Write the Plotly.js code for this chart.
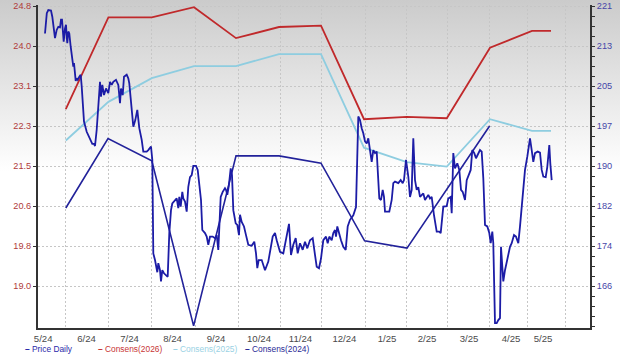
<!DOCTYPE html>
<html><head><meta charset="utf-8">
<script src="https://cdn.plot.ly/plotly-3.0.1.min.js"></script>
<style>
html,body{margin:0;padding:0;background:#fff;}
#chart{width:620px;height:354px;background:linear-gradient(to bottom,#cbcbcb 0px,#ffffff 172px);}
</style></head><body><div id="chart"></div>
<script>
// x unit: trading-day index from the first price point
const monthLabels = ['5/24','6/24','7/24','8/24','9/24','10/24','11/24','12/24','1/25','2/25','3/25','4/25','5/25'];
const monthLabelDays = [-0.9,20.75,42.25,63.75,85.5,107,127.75,149.7,171,191,212,233,249];
const gridDays = [10,31.5,53.35,75.35,96.5,117.5,138.35,160.35,180.85,201.35,222.15,241.15,260];

const leftTickLabels = ['19.0','19.8','20.6','21.5','22.3','23.1','24.0','24.8'];
const leftTickStart = 18.985, leftTickStep = 0.828571;
const rightTickLabels = ['166','174','182','190','197','205','213','221'];
const rightTickStart = 166, rightTickStep = 55 / 7;

const priceDays = [
0,0.9,1.65,3,3.65,4.5,5,5.85,6.65,7.5,
8,8.5,8.85,9.35,10,10.5,10.85,11.15,11.65,12.15,
12.85,13.65,14.15,14.5,14.85,15.35,15.85,16.35,17.15,17.85,
18.35,18.85,19.5,20.85,22.5,23.65,24.5,25,25.85,26.65,
27.5,28,28.65,29.5,30.5,31.65,32.5,33.35,34.15,35.5,
36.65,37.5,38,38.85,39.5,40.85,41.65,42.15,43.35,44.15,
45.15,46.15,47.15,48.35,49.15,50.85,51.65,53,53.65,54.15,
55,56.15,56.65,57.5,58,58.65,59.5,60.5,61.35,62.15,
63,63.65,65,65.85,66.65,67.15,67.85,68.65,69.15,70,
70.85,71.65,72.5,73.35,74.15,75.5,76.35,77.15,78,78.65,
80,80.85,81.65,82.5,83.85,85,85.85,86.65,87.15,87.85,
88.85,90,90.5,91.15,91.85,92.85,93.5,94.15,95.35,96.15,
97,97.5,98.35,99.5,100.5,101.65,103.35,104.65,105.5,106.15,
106.85,108.35,110,111.65,113.85,115,115.85,117.5,119.15,120.85,
122,123,124.15,125.35,126.35,127.5,128.85,130,131.15,132.5,
133.85,135,135.85,137,138,139.15,140.5,141.35,142.15,143.35,
144.15,145,145.5,146.15,147.15,148,149.15,150.35,151.35,152.5,
154.15,155,155.5,156.65,157.5,158.35,159.15,160,160.85,161.65,
162.5,163.35,164.15,165,165.85,166.35,167.15,168,168.85,169.5,
170,172.15,173.35,174.15,175,176.65,177.85,178.85,179.5,180.5,
181.65,182.5,183.35,184.15,185,185.85,186.65,187.5,189.15,190,
191.65,192.5,193.35,194.5,195.85,197.15,197.85,199.15,200.85,201.65,
202.85,203.35,204.15,205,206.15,207.15,208,208.85,210,210.85,
212,212.85,213.65,214.65,215.5,216.35,217.5,218.35,219.15,220,
221.15,222.15,222.85,223.65,224.15,225,225.85,226.65,227.5,228,
228.65,229.15,230,230.85,231.65,232.5,233.35,234.5,235.5,236.65,
237.5,238.35,239.15,240,241.15,242.5,243.35,244.15,245,246.35,
247.5,248.35,249.15,250.35,251.15,252.15,252.65,253.35];

const priceValues = [
215.6,219.6,220.2,220.1,218.9,215.6,214.7,216.3,216.9,216.8,
218.3,218.3,216.0,214.0,216.6,217.3,215.0,213.7,216.0,215.6,
213.0,210.1,209.1,209.8,208.1,206.3,206.8,206.5,207.1,207.5,
205.2,202.5,198.3,196.3,194.7,193.9,193.9,193.5,196.7,201.9,
206.1,203.2,205.5,203.5,204.8,203.9,206.1,205.5,206.1,206.5,
205.5,201.9,204.8,203.5,207.1,207.5,206.8,205.8,201.2,197.3,
198.6,200.6,197.0,194.7,192.4,192.4,192.7,193.4,190.8,172.4,
171.1,168.7,170.5,169.1,166.9,169.1,168.5,168.2,167.8,176.4,
180.9,182.2,182.9,183.2,181.3,183.5,181.6,184.5,183.2,182.6,
180.6,185.5,187.4,187.8,189.6,189.6,188.8,185.5,182.9,177.0,
176.4,175.7,174.1,175.7,175.7,175.4,176.0,173.1,178.3,183.5,
184.5,185.2,184.9,183.9,185.5,189.1,187.8,180.9,178.3,178.0,
176.0,180.0,178.6,177.7,176.0,174.1,173.9,174.7,172.4,169.5,
171.1,171.1,169.1,170.8,175.7,176.4,175.0,172.7,172.4,175.7,
178.2,172.1,174.1,175.4,172.4,174.4,173.1,174.7,173.4,175.0,
175.4,172.1,169.8,169.5,171.4,175.0,175.7,174.4,175.7,175.0,
176.4,177.0,175.7,177.7,176.0,175.0,173.7,173.1,177.7,179.0,
179.9,181.3,181.5,199.3,198.6,197.0,196.0,194.4,194.0,195.0,
193.1,190.4,192.7,192.1,192.4,187.5,183.2,182.9,184.9,183.5,
180.6,180.6,182.9,186.2,186.5,186.2,186.8,186.2,186.8,190.8,
187.5,183.5,184.9,195.0,186.8,184.9,185.4,183.5,184.2,182.9,
183.9,183.2,183.5,179.9,176.7,176.7,176.4,181.6,181.7,183.2,
183.5,180.3,192.1,189.1,190.1,188.8,184.9,184.5,182.9,186.8,
188.1,188.8,192.7,192.1,191.1,191.7,192.7,192.4,187.2,178.0,
177.7,176.4,174.4,176.7,174.4,158.7,158.7,159.3,159.7,173.7,
168.5,166.9,169.1,170.5,171.8,173.7,174.4,176.0,175.7,174.4,
177.7,181.6,186.2,188.8,191.4,195.0,192.7,190.4,192.1,192.4,
192.2,188.8,187.5,187.4,189.4,193.7,190.1,186.8];

const consensDays = [10.4,31.7,53.4,74.5,95.5,117,138,159.5,180.9,200.9,222.5,243.5,253];
const consens2026 = [22.65,24.55,24.55,24.76,24.12,24.35,24.38,22.44,22.49,22.46,23.92,24.27,24.27];
const consens2025 = [22.00,22.80,23.29,23.54,23.54,23.79,23.79,21.85,21.55,21.46,22.44,22.20,22.20];
const consens2024Days = [10.4,31.5,53.4,74.3,95.5,117,138,159.8,181,222.3];
const consens2024 = [20.60,22.04,21.58,18.16,21.68,21.68,21.53,19.92,19.77,22.30];

const legendNames = ['Price Daily','Consens(2026)','Consens(2025)','Consens(2024)'];
const colPrice = '#1c1ca6', col26 = '#c0292b', col25 = '#8ecde0', col24 = '#22229a';
const legendColors = ['#2a2aaa','#c83636','#9ad2e4','#2a2a96'];
const legendLeftPx = [24, 97, 172, 244];

const L = 38, R = 30, T = 5, B = 26, W = 620, H = 354;
const pw = W - L - R, ph = H - T - B;

const leftTickVals = leftTickLabels.map((_, k) => leftTickStart + k * leftTickStep);
const rightTickVals = rightTickLabels.map((_, k) => rightTickStart + k * rightTickStep);

const traces = [
  {x: consensDays, y: consens2026, yaxis: 'y', type: 'scatter', mode: 'lines', name: legendNames[1],
   line: {color: col26, width: 1.8}, hoverinfo: 'skip'},
  {x: consensDays, y: consens2025, yaxis: 'y', type: 'scatter', mode: 'lines', name: legendNames[2],
   line: {color: col25, width: 1.8}, hoverinfo: 'skip'},
  {x: consens2024Days, y: consens2024, yaxis: 'y', type: 'scatter', mode: 'lines', name: legendNames[3],
   line: {color: col24, width: 1.6}, hoverinfo: 'skip'},
  {x: priceDays, y: priceValues, yaxis: 'y2', type: 'scatter', mode: 'lines', name: legendNames[0],
   line: {color: colPrice, width: 1.8}, hoverinfo: 'skip'}
];

const ann = legendNames.map((n, i) => ({
  xref: 'paper', yref: 'paper', x: (legendLeftPx[i] - L) / pw, y: -(349 - (H - B)) / ph,
  xanchor: 'left', yanchor: 'middle', showarrow: false, borderpad: 0,
  text: '<b>–</b> ' + n, font: {family: 'Liberation Sans, Arial, sans-serif', size: 8.4, color: legendColors[i]}
}));

const layout = {
  width: W, height: H,
  margin: {l: L, r: R, t: T, b: B, pad: 0},
  paper_bgcolor: 'rgba(0,0,0,0)', plot_bgcolor: 'rgba(0,0,0,0)',
  showlegend: false,
  font: {family: 'Liberation Sans, Arial, sans-serif'},
  xaxis: {
    range: [-3.5, 272.5], tickmode: 'array', tickvals: monthLabelDays, ticktext: monthLabels,
    showgrid: false, zeroline: false, ticks: '', showline: true, linecolor: '#333', linewidth: 2,
    tickfont: {size: 9.6, color: '#4a4a4a'},
    minor: {tickmode: 'array', tickvals: gridDays, showgrid: true, gridcolor: '#c6c6c6', griddash: '2px,2px', gridwidth: 1, ticks: ''}
  },
  yaxis: {
    range: [18.115, 24.806], tickmode: 'array', tickvals: leftTickVals, ticktext: leftTickLabels,
    showgrid: true, gridcolor: '#c6c6c6', griddash: '2px,2px', gridwidth: 1, zeroline: false,
    ticks: 'outside', ticklen: 3, tickcolor: '#333', showline: true, linecolor: '#333', linewidth: 2,
    tickfont: {size: 9.2, color: '#b03a3a'}
  },
  yaxis2: {
    overlaying: 'y', side: 'right', range: [157.75, 221.2], tickmode: 'array', tickvals: rightTickVals, ticktext: rightTickLabels,
    showgrid: false, zeroline: false,
    ticks: 'outside', ticklen: 3, tickcolor: '#333', showline: true, linecolor: '#333', linewidth: 2,
    tickfont: {size: 9.2, color: '#4646a8'},
    minor: {tickmode: 'linear', dtick: 55/28, tick0: 166, ticks: 'outside', ticklen: 3, tickcolor: '#333', showgrid: false}
  },
  annotations: ann
};

Plotly.newPlot('chart', traces, layout, {displayModeBar: false, staticPlot: true});
</script>
</body></html>
